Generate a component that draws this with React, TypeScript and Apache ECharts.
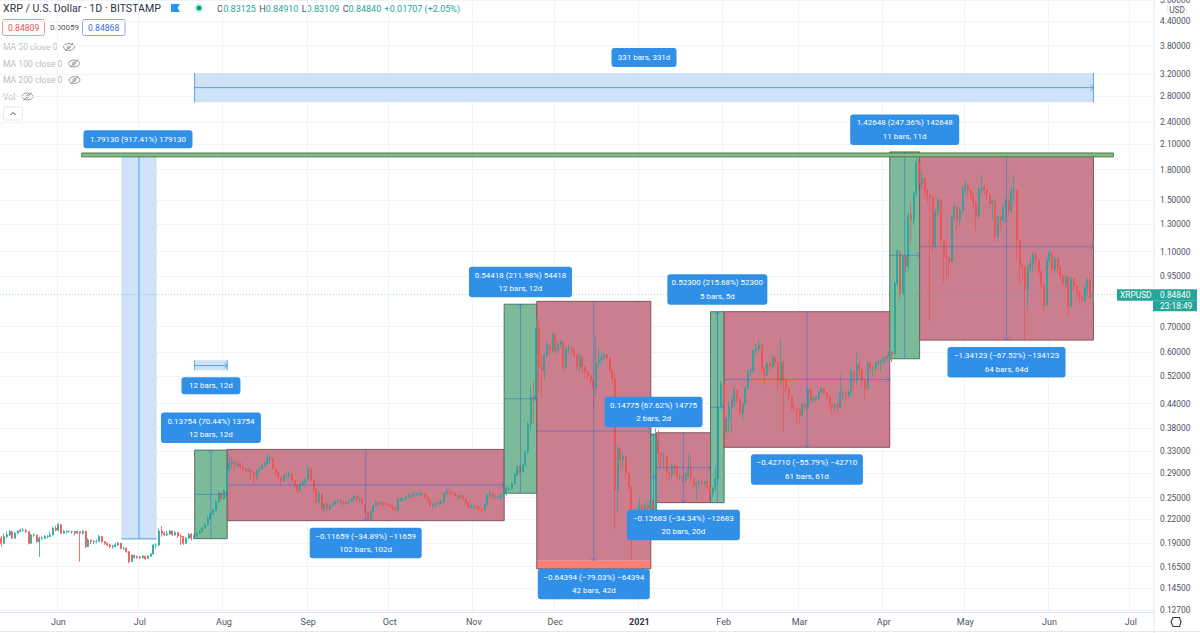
import React, { useEffect, useRef } from "react";
import * as echarts from "echarts";

const UP = "#26a69a", DOWN = "#ef5350";
const FONT = "Roboto, 'Noto Sans', sans-serif";

const barCount = 425;
const firstDay = Date.UTC(2020, 4, 11);
const categories: string[] = [];
for (let d = 0; d < barCount; d++) categories.push(new Date(firstDay + d * 86400000).toISOString().slice(0, 10));

const monthTicks: Record<number, string> = { 21: "Jun", 51: "Jul", 82: "Aug", 113: "Sep", 143: "Oct", 174: "Nov", 204: "Dec", 235: "2021", 266: "Feb", 294: "Mar", 325: "Apr", 355: "May", 386: "Jun", 416: "Jul" };
const priceTicks = [5, 4.4, 3.8, 3.2, 2.8, 2.4, 2.1, 1.8, 1.5, 1.3, 1.1, 0.95, 0.7, 0.6, 0.52, 0.44, 0.38, 0.33, 0.29, 0.25, 0.22, 0.19, 0.165, 0.145, 0.127];

const closes = [
.1899,.1977,.1997,.2038,.1958,.2018,.2038,.2055,.2055,.2038,
.1899,.1997,.1997,.1918,.1958,.1958,.1977,.1977,.1997,.2080,
.2055,.2125,.2018,.2038,.2038,.2038,.2038,.2018,.2038,.2018,
.2038,.1861,.1935,.1918,.1918,.1918,.1977,.1918,.1899,.1880,
.1861,.1861,.1880,.1899,.1842,.1842,.1805,.1700,.1768,.1743,
.1750,.1740,.1757,.1733,.1757,.1780,.1880,.1880,.2045,.2018,
.1997,.2010,.2045,.1997,.2025,.1985,.1977,.1899,.1958,.2005,
.1958,.1985,.2018,.2038,.2080,.2125,.2205,.2270,.2316,.2437,
.2570,.2490,.2600,.2965,.3068,.3100,.3035,.3068,.3000,.2970,
.2945,.2955,.2915,.2855,.2945,.2970,.3035,.3068,.3165,.3165,
.2970,.2915,.2825,.2770,.2855,.2855,.2885,.2770,.2690,.2610,
.2715,.2740,.2795,.2970,.2770,.2635,.2430,.2557,.2338,.2407,
.2338,.2383,.2407,.2430,.2455,.2445,.2407,.2430,.2440,.2480,
.2520,.2480,.2480,.2407,.2293,.2190,.2293,.2383,.2430,.2420,
.2420,.2407,.2397,.2383,.2350,.2316,.2470,.2480,.2480,.2507,
.2532,.2532,.2557,.2557,.2557,.2557,.2507,.2455,.2383,.2397,
.2407,.2416,.2430,.2557,.2595,.2585,.2570,.2532,.2507,.2532,
.2480,.2430,.2360,.2383,.2383,.2360,.2338,.2325,.2407,.2532,
.2557,.2507,.2507,.2507,.2532,.2557,.2640,.2640,.2720,.2865,
.3010,.2920,.3040,.3295,.3900,.4585,.4540,.6950,.5490,.5382,
.5890,.6250,.6070,.6650,.6070,.6310,.6390,.5490,.6130,.6180,
.6100,.5900,.5490,.5850,.5490,.5330,.5200,.5069,.4820,.5650,
.5730,.5800,.5890,.5800,.5382,.5115,.2618,.3360,.3134,.3195,
.2890,.2660,.2320,.2120,.2230,.2380,.2275,.2380,.2350,.2464,
.2320,.3535,.3265,.3200,.3200,.2920,.2865,.3040,.3010,.2840,
.2840,.2779,.2860,.2951,.2805,.2690,.2720,.2750,.2720,.2750,
.2660,.2560,.2640,.2805,.4320,.4960,.3740,.4020,.4310,.4495,
.4773,.4530,.4150,.4390,.4820,.5350,.5382,.6070,.6130,.6260,
.5450,.5230,.5620,.5510,.5780,.5660,.5069,.5660,.5069,.4820,
.4580,.4310,.4270,.4232,.4100,.4390,.4310,.4800,.4495,.4530,
.4580,.4720,.4820,.4700,.4580,.4390,.4310,.4390,.4310,.4680,
.4680,.4620,.4720,.5330,.5069,.5570,.5382,.5069,.4820,.5620,
.5450,.5450,.5620,.5660,.5660,.5780,.5850,.6010,.5950,.9080,
1.100,.8550,1.065,1.005,1.368,1.328,1.560,1.885,1.655,1.710,
1.590,1.545,1.530,1.140,1.395,1.500,1.177,1.075,1.060,1.035,
1.350,1.440,1.330,1.410,1.600,1.635,1.590,1.545,1.480,1.360,
1.605,1.620,1.590,1.555,1.470,1.490,1.205,1.355,1.330,1.440,
1.495,1.410,1.580,1.590,1.177,1.015,1.000,.8720,1.000,1.020,
1.080,1.040,.9750,.9000,.7950,1.045,1.090,.9900,1.055,1.000,
.9500,.9050,.9450,.7900,.9350,.8950,.8650,.8400,.8200,.8850,
.9250,.8313,.8484];

const highs = [
.1985,.2015,.2040,.2060,.2045,.2030,.2055,.2075,.2080,.2065,
.2040,.2010,.2015,.1990,.1975,.1980,.1995,.1995,.2035,.2100,
.2110,.2145,.2125,.2060,.2055,.2050,.2050,.2045,.2050,.2040,
.2055,.2045,.1960,.1940,.1935,.1945,.2000,.1985,.1925,.1905,
.1895,.1880,.1900,.1915,.1905,.1860,.1850,.1810,.1775,.1770,
.1765,.1760,.1770,.1760,.1770,.1790,.1890,.1900,.2080,.2110,
.2040,.2045,.2060,.2050,.2045,.2035,.2005,.1985,.1975,.2020,
.2020,.2000,.2035,.2055,.2100,.2150,.2230,.2290,.2340,.2460,
.2600,.2590,.2630,.3050,.3190,.3180,.3130,.3110,.3090,.3020,
.2990,.3000,.2975,.2925,.2965,.3000,.3060,.3100,.3260,.3200,
.3170,.2980,.2925,.2840,.2880,.2890,.2920,.2890,.2780,.2700,
.2735,.2770,.2810,.3035,.2990,.2790,.2640,.2590,.2560,.2430,
.2420,.2410,.2440,.2460,.2475,.2480,.2450,.2450,.2470,.2500,
.2545,.2530,.2500,.2490,.2410,.2300,.2320,.2400,.2450,.2445,
.2440,.2435,.2425,.2410,.2390,.2360,.2490,.2510,.2510,.2530,
.2570,.2550,.2585,.2590,.2580,.2590,.2570,.2510,.2460,.2420,
.2425,.2440,.2460,.2580,.2640,.2610,.2600,.2580,.2535,.2550,
.2535,.2480,.2430,.2400,.2400,.2390,.2370,.2340,.2420,.2555,
.2610,.2570,.2540,.2530,.2560,.2590,.2700,.2670,.2740,.2900,
.3040,.3040,.3080,.3320,.3950,.4900,.5050,.7385,.7300,.5900,
.5950,.6400,.6280,.6800,.6700,.6400,.6450,.6250,.6200,.6280,
.6180,.6100,.5900,.5950,.5850,.5500,.5350,.5250,.5080,.6580,
.6100,.5950,.5990,.5950,.5820,.5400,.5270,.3450,.3380,.3280,
.3200,.2900,.2680,.2320,.2350,.2480,.2400,.2450,.2430,.2780,
.2480,.3790,.3750,.3300,.3290,.3230,.2950,.3060,.3050,.3020,
.2880,.2860,.2900,.3280,.3250,.2820,.2750,.2790,.2780,.2770,
.2770,.2680,.2670,.3000,.7655,.5050,.5020,.4060,.4460,.4600,
.4840,.4800,.4540,.4430,.4900,.5400,.5450,.6100,.6300,.6520,
.6200,.5500,.5650,.5700,.5880,.5900,.5700,.6520,.5700,.5100,
.4820,.4580,.4360,.4300,.4280,.4440,.4400,.4850,.4820,.4570,
.4600,.4750,.4850,.4830,.4720,.4600,.4400,.4420,.4400,.5250,
.4800,.4730,.4760,.5480,.5350,.6000,.5700,.5420,.5100,.5680,
.5680,.5500,.5650,.5720,.5720,.5850,.5900,.6150,.6050,.9200,
1.115,1.090,1.080,1.065,1.390,1.470,1.580,1.985,1.905,1.780,
1.710,1.600,1.560,1.530,1.420,1.520,1.500,1.180,1.165,1.065,
1.365,1.480,1.440,1.430,1.620,1.700,1.650,1.600,1.550,1.490,
1.625,1.745,1.640,1.600,1.560,1.510,1.490,1.370,1.370,1.470,
1.520,1.510,1.620,1.745,1.600,1.180,1.030,1.010,1.015,1.060,
1.095,1.100,1.050,.9800,.9050,1.065,1.110,1.095,1.070,1.060,
1.010,.9550,.9550,.8900,.9450,.9400,.9000,.8700,.8450,.8900,
.9380,.9300,.8491];

const lows = [
.1860,.1890,.1960,.1985,.1950,.1950,.2005,.2030,.2035,.2020,
.1885,.1895,.1975,.1905,.1750,.1940,.1945,.1955,.1975,.1990,
.2040,.2040,.2005,.2010,.2015,.2020,.2010,.1990,.2005,.1700,
.2000,.1845,.1860,.1890,.1890,.1900,.1915,.1905,.1880,.1860,
.1840,.1840,.1855,.1870,.1830,.1825,.1790,.1683,.1695,.1730,
.1730,.1725,.1730,.1715,.1730,.1750,.1775,.1840,.1860,.1975,
.1980,.1985,.2000,.1985,.1985,.1960,.1880,.1880,.1890,.1945,
.1930,.1945,.1975,.2010,.2035,.2070,.2110,.2190,.2250,.2300,
.2420,.2470,.2470,.2590,.2890,.2980,.2960,.2990,.2950,.2930,
.2880,.2900,.2780,.2715,.2790,.2900,.2960,.3010,.3050,.3060,
.2960,.2860,.2790,.2700,.2750,.2790,.2810,.2750,.2650,.2560,
.2590,.2700,.2700,.2770,.2760,.2590,.2400,.2420,.2300,.2290,
.2290,.2310,.2370,.2390,.2420,.2400,.2380,.2390,.2410,.2430,
.2460,.2440,.2420,.2390,.2260,.2170,.2180,.2280,.2370,.2380,
.2380,.2370,.2365,.2350,.2320,.2280,.2300,.2440,.2440,.2460,
.2490,.2500,.2510,.2530,.2520,.2530,.2490,.2430,.2360,.2350,
.2370,.2390,.2400,.2420,.2550,.2550,.2540,.2510,.2480,.2480,
.2460,.2400,.2340,.2340,.2340,.2330,.2290,.2290,.2310,.2380,
.2510,.2470,.2480,.2470,.2480,.2500,.2530,.2600,.2620,.2700,
.2860,.2880,.2900,.3020,.3250,.3750,.3900,.4495,.4700,.4585,
.5069,.5800,.5900,.5950,.5900,.5950,.6150,.5400,.5430,.5950,
.5950,.5800,.5400,.5350,.5300,.5150,.5050,.4900,.4300,.4650,
.5450,.5550,.5700,.5700,.5300,.4950,.2075,.2290,.2950,.3000,
.2800,.2590,.1719,.1930,.2050,.2180,.2090,.2200,.2240,.2185,
.2050,.2230,.3050,.3000,.2990,.2760,.2770,.2800,.2880,.2770,
.2770,.2730,.2740,.2820,.2730,.2650,.2464,.2660,.2680,.2680,
.2600,.2464,.2500,.2600,.2700,.4320,.3410,.3680,.3730,.3700,
.4310,.4400,.4100,.3980,.4390,.4820,.5200,.5300,.5900,.6000,
.5300,.4950,.5200,.5350,.5400,.5500,.4773,.4900,.3710,.4700,
.4500,.4230,.4150,.3900,.3900,.4050,.4200,.4250,.4400,.4420,
.4450,.4500,.4680,.4630,.4490,.4250,.4150,.4220,.4150,.4270,
.4500,.4500,.4540,.4650,.4750,.4950,.5150,.4850,.4530,.4800,
.5330,.5150,.5350,.5520,.5300,.5600,.5700,.5500,.5650,.5850,
.8950,.8250,.8500,.9700,.9700,1.150,1.290,1.530,1.600,1.600,
1.500,1.480,.7270,1.100,1.120,1.350,1.150,.9150,.9300,.9450,
1.040,1.330,1.250,1.280,1.380,1.550,1.520,1.500,1.420,1.250,
1.340,1.550,1.540,1.500,1.430,1.330,1.170,1.190,1.250,1.310,
1.310,1.360,1.380,1.480,1.050,.9050,.9200,.6450,.7720,.9700,
.9750,.9950,.9450,.8800,.7700,.8000,1.020,.9650,.9650,.9700,
.9200,.8900,.8850,.7500,.8650,.8650,.8300,.8150,.7950,.8100,
.8450,.8250,.8311];

const candleRows = closes.map((c, i) => {
  const o = i === 0 ? 0.1958 : closes[i - 1];
  return [o, c, Math.min(lows[i], o, c), Math.max(highs[i], o, c)];
});

// Price-range boxes: start/end bar, low/high price, direction, measure label
const boxStart = [71, 83, 185, 197, 239, 241, 261, 266, 327, 338];
const boxEnd = [83, 185, 197, 239, 241, 261, 266, 327, 338, 402];
const boxLow = [0.19526, 0.21757, 0.25672, 0.17087, 0.2185, 0.24251, 0.24249, 0.33845, 0.5767, 0.64519];
const boxHigh = [0.3328, 0.33416, 0.8009, 0.81481, 0.36625, 0.36934, 0.76549, 0.76555, 2.0032, 1.98642];
const boxRising = [true, false, true, false, true, false, true, false, true, false];
const boxMeasure = ["0.13754 (70.44%) 13754", "\u22120.11659 (\u221234.89%) \u221211659", "0.54418 (211.98%) 54418", "\u22120.64394 (\u221279.03%) \u221264394", "0.14775 (67.62%) 14775", "\u22120.12683 (\u221234.34%) \u221212683", "0.52300 (215.68%) 52300", "\u22120.42710 (\u221255.79%) \u221242710", "1.42648 (247.36%) 142648", "\u22121.34123 (\u221267.52%) \u2212134123"];
const boxBars = ["12 bars, 12d", "102 bars, 102d", "12 bars, 12d", "42 bars, 42d", "2 bars, 2d", "20 bars, 20d", "5 bars, 5d", "61 bars, 61d", "11 bars, 11d", "64 bars, 64d"];
const boxLabelWidth = [100, 112, 103, 112, 98, 113, 100, 112, 109, 118];

const redBandLow = 0.1628;
const hBandBars = [29.4, 409.4];
const hBandPrices = [1.945, 1.99];
const rangeBars = [44, 57];
const rangePrices = [0.19526, 1.98656];
const longDateBars = [71, 402];
const longDatePrices = [2.7, 2.95, 3.22];
const shortDateBars = [71, 83];
const shortDatePrices = [0.5382, 0.5535, 0.5716];
const lastPrice = 0.8484;

const LABEL_BLUE = "#3090e8";
const LINE_BLUE = "rgba(33,110,220,0.5)";

function tools(params: any, api: any) {
  const bw = params.coordSys.width / barCount;
  const x0 = api.coord([0, 1])[0];
  return { X: (i: number) => x0 + i * bw, Y: (p: number) => api.coord([0, p])[1] };
}
const rect = (x: number, y: number, w: number, h: number, style: any, r = 0) => ({ type: "rect", shape: { x, y, width: w, height: h, r }, style, silent: true });
const seg = (x1: number, y1: number, x2: number, y2: number, stroke: string, lineWidth = 1, lineDash?: number[]) => ({ type: "line", shape: { x1, y1, x2, y2 }, style: { stroke, lineWidth, lineDash }, silent: true });
const vee = (pts: number[][], stroke: string) => ({ type: "polyline", shape: { points: pts }, style: { stroke, fill: "none", lineWidth: 1 }, silent: true });
const txt = (x: number, y: number, text: string, fill = "#fff", size = 8) => ({ type: "text", x, y, style: { text, fill, font: `${size}px ${FONT}`, align: "center", verticalAlign: "middle" }, silent: true });

function blueLabel(cx: number, top: number, w: number, h: number, lines: string[]) {
  const kids: any[] = [rect(cx - w / 2, top, w, h, { fill: LABEL_BLUE }, 3)];
  if (lines.length === 1) kids.push(txt(cx, top + h / 2, lines[0]));
  else {
    kids.push(txt(cx, top + h * 0.28, lines[0]));
    kids.push(txt(cx, top + h * 0.72, lines[1]));
  }
  return { type: "group", children: kids };
}

function renderBoxes(params: any, api: any) {
  const { X, Y } = tools(params, api);
  const i = params.dataIndex;
  const x1 = X(boxStart[i]) + 0.5, x2 = X(boxEnd[i]) + 0.5, y1 = Y(boxHigh[i]), y2 = Y(boxLow[i]);
  const bottom = i === 3 ? Y(redBandLow) : y2;
  const kids: any[] = [];
  if (i === 3) kids.push(rect(x1, y2, x2 - x1, bottom - y2, { fill: "#f97e74" }));
  kids.unshift(rect(x1, y1, x2 - x1, y2 - y1, { fill: boxRising[i] ? "#7dba9a" : "#cb7f8e" }));
  kids.push(rect(x1, y1, x2 - x1, bottom - y1, { fill: "none", stroke: boxRising[i] ? "#4d7562" : "#80555e", lineWidth: 1 }));
  return { type: "group", children: kids };
}

function renderLines(params: any, api: any) {
  const { X, Y } = tools(params, api);
  const i = params.dataIndex;
  const x1 = X(boxStart[i]) + 0.5, x2 = X(boxEnd[i]) + 0.5, y1 = Y(boxHigh[i]), y2 = Y(boxLow[i]);
  const cx = (x1 + x2) / 2, cy = (y1 + y2) / 2;
  const kids: any[] = [seg(cx, y1, cx, y2, LINE_BLUE), seg(x1, cy, x2, cy, LINE_BLUE)];
  if (boxRising[i]) kids.push(vee([[cx - 3, y1 + 3], [cx, y1], [cx + 3, y1 + 3]], LINE_BLUE));
  else kids.push(vee([[cx - 3, y2 - 3], [cx, y2], [cx + 3, y2 - 3]], LINE_BLUE));
  kids.push(vee([[x2 - 3, cy - 3], [x2, cy], [x2 - 3, cy + 3]], LINE_BLUE));
  return { type: "group", children: kids };
}

function renderLabels(params: any, api: any) {
  const { X, Y } = tools(params, api);
  const i = params.dataIndex;
  const cx = (X(boxStart[i]) + X(boxEnd[i])) / 2 + 0.5;
  const h = 30.5;
  const top = boxRising[i] ? Y(boxHigh[i]) - 7 - h : (i === 3 ? Y(redBandLow) : Y(boxLow[i]) + 7);
  return blueLabel(cx, top, boxLabelWidth[i], h, [boxMeasure[i], boxBars[i]]);
}

function renderBackground(params: any, api: any) {
  const { X, Y } = tools(params, api);
  const pale = "#cfe3f8";
  const kids: any[] = [];
  // vertical price range
  const rx1 = X(rangeBars[0]) + 0.5, rx2 = X(rangeBars[1]) + 0.5, ry1 = Y(rangePrices[1]), ry2 = Y(rangePrices[0]);
  kids.push(rect(rx1, ry1, rx2 - rx1, ry2 - ry1, { fill: pale }));
  kids.push(seg(rx1, ry2, rx2, ry2, "#7fb6ec", 1.5));
  kids.push(seg((rx1 + rx2) / 2, ry1, (rx1 + rx2) / 2, ry2, "#5aa0e6"));
  // long date range
  const lx1 = X(longDateBars[0]) + 0.5, lx2 = X(longDateBars[1]) + 0.5, ly1 = Y(longDatePrices[2]), ly2 = Y(longDatePrices[0]), lm = Y(longDatePrices[1]);
  kids.push(rect(lx1, ly1, lx2 - lx1, ly2 - ly1, { fill: pale }));
  kids.push(seg(lx1, ly1, lx1, ly2, "#5aa0e6"), seg(lx2, ly1, lx2, ly2, "#5aa0e6"), seg(lx1, lm, lx2, lm, "#5aa0e6"));
  kids.push(vee([[lx2 - 3, lm - 3], [lx2, lm], [lx2 - 3, lm + 3]], "#5aa0e6"));
  // short date range
  const sx1 = X(shortDateBars[0]) + 0.5, sx2 = X(shortDateBars[1]) + 0.5, sy1 = Y(shortDatePrices[2]), sy2 = Y(shortDatePrices[0]), sm = Y(shortDatePrices[1]);
  kids.push(rect(sx1, sy1, sx2 - sx1, sy2 - sy1, { fill: pale }));
  kids.push(seg(sx1, sy1, sx1, sy2, "#5aa0e6"), seg(sx2, sy1, sx2, sy2, "#5aa0e6"), seg(sx1, sm, sx2, sm, "#5aa0e6"));
  kids.push(vee([[sx2 - 3, sm - 3], [sx2, sm], [sx2 - 3, sm + 3]], "#5aa0e6"));
  return { type: "group", children: kids };
}

function renderTop(params: any, api: any) {
  const { X, Y } = tools(params, api);
  const kids: any[] = [];
  // horizontal green band
  const hx1 = X(hBandBars[0]) + 0.5, hx2 = X(hBandBars[1]) + 0.5, hy1 = Y(hBandPrices[1]), hy2 = Y(hBandPrices[0]);
  kids.push(rect(hx1, hy1, hx2 - hx1, hy2 - hy1, { fill: "#86bd87", stroke: "#4f7a52", lineWidth: 1 }));
  // labels of the ranges
  const rc = (X(rangeBars[0]) + X(rangeBars[1])) / 2;
  kids.push(blueLabel(rc - 0.5, Y(rangePrices[1]) - 23, 109, 18, ["1.79130 (917.41%) 179130"]));
  const lc = (X(longDateBars[0]) + X(longDateBars[1])) / 2 + 0.5;
  kids.push(blueLabel(lc, Y(longDatePrices[2]) - 25, 65, 19, ["331 bars, 331d"]));
  const sc = (X(shortDateBars[0]) + X(shortDateBars[1])) / 2 + 0.5;
  kids.push(blueLabel(sc, Y(shortDatePrices[0]) + 7, 59, 17, ["12 bars, 12d"]));
  // last price line and tag
  const ly = Y(lastPrice);
  kids.unshift(seg(params.coordSys.x, ly, 1117, ly, "rgba(38,166,154,0.42)", 1, [1, 2]));
  kids.push(rect(1117, ly - 5.5, 80, 11.5, { fill: UP }));
  kids.push(rect(1153, ly + 6, 44, 10.5, { fill: UP }));
  kids.push({ type: "text", x: 1120, y: ly, style: { text: "XRPUSD", fill: "#fff", font: `8.4px ${FONT}`, align: "left", verticalAlign: "middle" }, silent: true });
  kids.push({ type: "text", x: 1160, y: ly, style: { text: "0.84840", fill: "#fff", font: `8.4px ${FONT}`, align: "left", verticalAlign: "middle" }, silent: true });
  kids.push({ type: "text", x: 1160, y: ly + 11, style: { text: "23:18:49", fill: "#fff", font: `8.4px ${FONT}`, align: "left", verticalAlign: "middle" }, silent: true });
  return { type: "group", children: kids };
}

const T = (x: number, y: number, text: string, fill: string, size = 9.2, extra: any = {}) => ({ type: "text", x, y, silent: true, style: { text, fill, font: `${size}px ${FONT}`, align: "left", verticalAlign: "middle", ...extra } });
const eye = (cx: number, cy: number) => ({
  type: "group",
  silent: true,
  children: [
    { type: "ellipse", shape: { cx, cy, rx: 5.5, ry: 3.4 }, style: { fill: "none", stroke: "#8c8c8c", lineWidth: 0.9 } },
    { type: "circle", shape: { cx, cy, r: 1.5 }, style: { fill: "none", stroke: "#8c8c8c", lineWidth: 0.9 } },
    { type: "line", shape: { x1: cx - 4, y1: cy + 4, x2: cx + 4, y2: cy - 4 }, style: { stroke: "#8c8c8c", lineWidth: 1 } },
  ],
});

const headerTitle = "XRP / U.S. Dollar \u00b7 1D \u00b7 BITSTAMP";
const ohlcText = "{k|O}{v|0.83125} {k|H}{v|0.84910} {k|L}{v|0.83109} {k|C}{v|0.84840} {v|+0.01707 (+2.05%)}";

function headerGraphics() {
  const g: any[] = [
    T(3, 8.5, headerTitle, "#30343f", 10.6),
    { type: "polygon", silent: true, shape: { points: [[171, 4], [180, 4], [177.5, 8], [180, 12], [171, 12]] }, style: { fill: "#2196f3" } },
    { type: "circle", silent: true, shape: { cx: 199, cy: 8, r: 5 }, style: { fill: "#d6efea" } },
    { type: "circle", silent: true, shape: { cx: 199, cy: 8, r: 2.5 }, style: { fill: "#089981" } },
    {
      type: "text", x: 217, y: 8.5, silent: true,
      style: {
        text: ohlcText, verticalAlign: "middle", align: "left",
        rich: { k: { fill: "#50535e", font: `9px ${FONT}` }, v: { fill: "#26a69a", font: `9px ${FONT}` } },
      },
    },
    { type: "rect", silent: true, shape: { x: 2.5, y: 19.5, width: 42, height: 16, r: 2 }, style: { fill: "#fff", stroke: "#ef9a9a", lineWidth: 1 } },
    T(8, 27.8, "0.84809", "#ef5350", 8.6),
    T(50, 27.8, "0.00059", "#50535e", 8),
    { type: "rect", silent: true, shape: { x: 82.5, y: 19.5, width: 42.5, height: 16, r: 2 }, style: { fill: "#fff", stroke: "#90a9ee", lineWidth: 1 } },
    T(88, 27.8, "0.84868", "#3b6fe0", 8.6),
    T(3, 47, "MA 50 close 0", "#bcbcbc", 8.6), eye(69, 47),
    T(3, 63.5, "MA 100 close 0", "#bcbcbc", 8.6), eye(74, 63.5),
    T(3, 80, "MA 200 close 0", "#bcbcbc", 8.6), eye(74.5, 80),
    T(3, 96.5, "Vol", "#bcbcbc", 8.6), eye(27.5, 96.5),
    { type: "rect", silent: true, shape: { x: 3.5, y: 107, width: 19, height: 13, r: 2 }, style: { fill: "#fff", stroke: "#e6e8ee", lineWidth: 1 } },
    { type: "polyline", silent: true, shape: { points: [[10.5, 115], [13, 112.5], [15.5, 115]] }, style: { fill: "none", stroke: "#444", lineWidth: 1 } },
    // price scale separators, currency badge and settings gear
    { type: "line", silent: true, shape: { x1: 1154, y1: 0, x2: 1154, y2: 633 }, style: { stroke: "#e0e3eb", lineWidth: 1 } },
    { type: "line", silent: true, shape: { x1: 0, y1: 631.5, x2: 1200, y2: 631.5 }, style: { stroke: "#e6e8ee", lineWidth: 1 } },
    { type: "rect", silent: true, shape: { x: 1167.5, y: 4.5, width: 19, height: 10, r: 2 }, style: { fill: "#fff", stroke: "#eeeeee", lineWidth: 1 } },
    { type: "text", x: 1177, y: 9.7, silent: true, style: { text: "USD", fill: "#50535e", font: `8.2px ${FONT}`, align: "center", verticalAlign: "middle" } },
    { type: "polygon", silent: true, shape: { points: [[1173, 617.5], [1179.5, 617.5], [1181, 622], [1179.5, 626.5], [1173, 626.5], [1171, 622]] }, style: { fill: "none", stroke: "#30343f", lineWidth: 1.1 } },
  ];
  return g;
}

export default function App() {
  const ref = useRef<HTMLDivElement>(null);
  useEffect(() => {
    document.body.style.margin = "0";
    const chart = echarts.init(ref.current!, undefined, { renderer: "svg" });
    const customBase = { type: "custom", coordinateSystem: "cartesian2d", clip: false, silent: true, animation: false };
    chart.setOption({
      animation: false,
      backgroundColor: "#ffffff",
      grid: { left: 0, right: 46, top: 0, bottom: 20.4, containLabel: false, outerBoundsMode: "none" },
      tooltip: { show: false },
      xAxis: {
        type: "category",
        data: categories,
        boundaryGap: true,
        axisLine: { show: true, lineStyle: { color: "#e0e3eb" } },
        axisTick: { show: false },
        splitLine: { show: true, interval: (i: number) => i in monthTicks, lineStyle: { color: "#f0f3fa" } },
        axisLabel: {
          interval: (i: number) => i in monthTicks,
          margin: 5,
          color: "#50535e",
          fontFamily: FONT,
          fontSize: 9,
          formatter: (_: string, i: number) => (monthTicks[i] === "2021" ? "{b|2021}" : monthTicks[i] ?? ""),
          rich: { b: { fontWeight: "bold", color: "#30343f", fontSize: 9, fontFamily: FONT } },
        },
      },
      yAxis: {
        type: "log",
        logBase: 10,
        position: "right",
        min: 0.1251,
        max: 5,
        axisLine: { show: false },
        axisTick: { show: false, customValues: priceTicks },
        splitLine: { show: true, lineStyle: { color: "#f0f3fa" } },
        minorTick: { show: false },
        minorSplitLine: { show: false },
        axisLabel: {
          customValues: priceTicks,
          margin: 6,
          color: "#50535e",
          fontFamily: FONT,
          fontSize: 8.4,
          hideOverlap: false,
          formatter: (v: number) => Number(v).toFixed(5),
        },
      },
      series: [
        { ...customBase, z: 1, data: [[0, 1]], renderItem: renderBackground },
        { ...customBase, z: 2, data: boxStart.map((s, i) => [s, boxLow[i]]), renderItem: renderBoxes },
        {
          type: "candlestick",
          z: 3,
          silent: true,
          barWidth: 1.5,
          data: candleRows,
          itemStyle: { color: UP, color0: DOWN, borderColor: UP, borderColor0: DOWN, borderWidth: 0.8 },
        },
        { ...customBase, z: 4, data: boxStart.map((s, i) => [s, boxHigh[i]]), renderItem: renderLines },
        { ...customBase, z: 5, data: [[0, 1]], renderItem: renderTop },
        { ...customBase, z: 6, data: boxStart.map((s, i) => [s, boxHigh[i]]), renderItem: renderLabels },
      ],
      graphic: { elements: headerGraphics() },
    });
    return () => chart.dispose();
  }, []);
  return <div ref={ref} style={{ position: "fixed", left: 0, top: 0, width: 1200, height: 633 }} />;
}
